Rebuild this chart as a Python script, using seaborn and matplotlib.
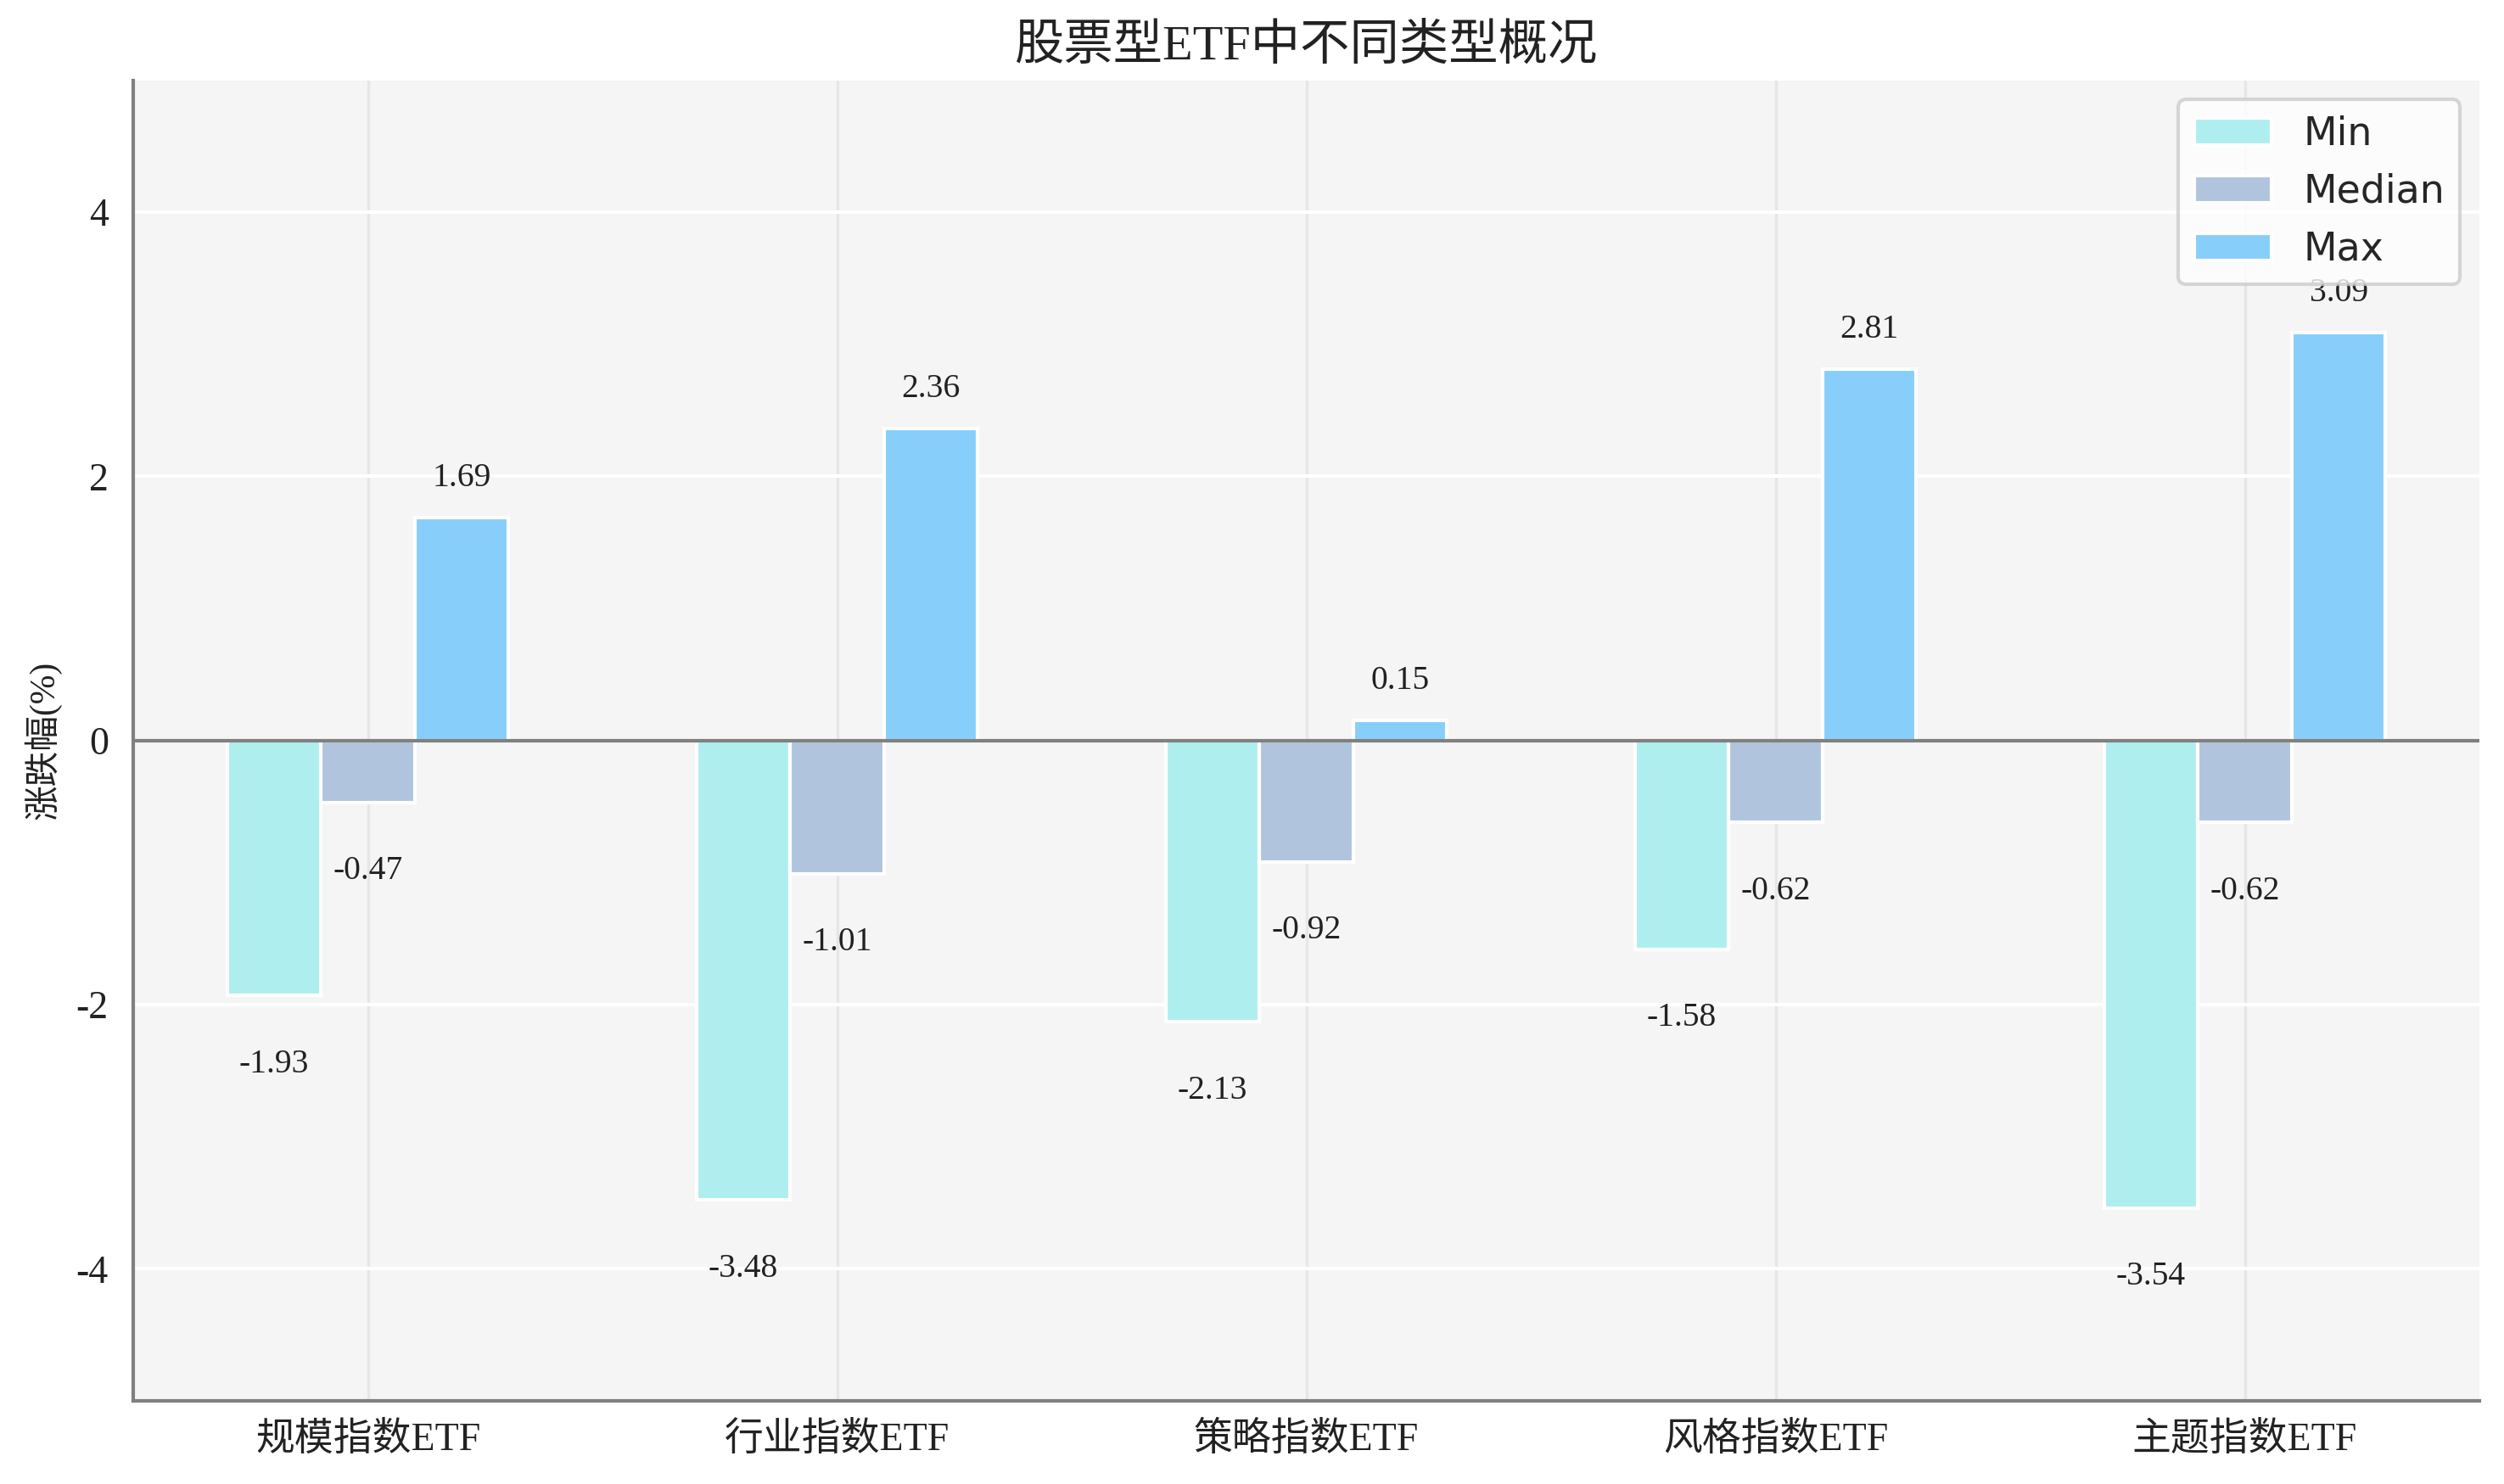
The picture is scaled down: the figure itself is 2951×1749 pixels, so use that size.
import pandas as pd
import seaborn as sns
import matplotlib.pyplot as plt

# Kategorien und Werte
categories = ['规模指数ETF', '行业指数ETF', '策略指数ETF', '风格指数ETF', '主题指数ETF']
min_values = [-1.93, -3.48, -2.13, -1.58, -3.54]
median_values = [-0.47, -1.01, -0.92, -0.62, -0.62]
max_values = [1.69, 2.36, 0.15, 2.81, 3.09]
stat_names = ['Min', 'Median', 'Max']
colors = ['#AFEEEE', '#B0C4DE', '#87CEFA']

# Long-Format fuer seaborn
rows = []
for name, vals in zip(stat_names, [min_values, median_values, max_values]):
    for c, v in zip(categories, vals):
        rows.append({'type': c, 'stat': name, 'value': v})
df = pd.DataFrame(rows)

sns.set_style('white')
cn_font = ['Liberation Serif', 'Noto Sans CJK SC']
plt.rcParams['font.family'] = cn_font
plt.rcParams['axes.unicode_minus'] = False

fig = plt.figure(figsize=(2951 / 300, 1749 / 300), dpi=300)
ax = fig.add_axes([157 / 2951, 1 - 1651 / 1749, (2922 - 157) / 2951, (1651 - 94.5) / 1749])
ax.set_facecolor('#f5f5f5')

sns.barplot(data=df, x='type', y='value', hue='stat', palette=colors, saturation=1,
            width=0.6, edgecolor='white', linewidth=1, ax=ax, zorder=3)

# Werte an die Balken schreiben
for cont in ax.containers:
    for bar in cont:
        h = bar.get_height()
        xc = bar.get_x() + bar.get_width() / 2
        y = h + 0.3 if h >= 0 else h - 0.52
        ax.text(xc, y, f'{h:.2f}', ha='center', va='center', fontsize=9.5,
                color='#222222', family=cn_font, zorder=5)

ax.axhline(0, color='#808080', linewidth=1, zorder=4)
ax.set_ylim(-5, 5)
ax.set_xlim(-0.5, 4.5)
ax.set_yticks([-4, -2, 0, 2, 4])

# Gitter
ax.yaxis.grid(True, color='white', linewidth=1)
ax.xaxis.grid(True, color='#e6e6e6', linewidth=0.8)
ax.set_axisbelow(True)

ax.set_title('股票型ETF中不同类型概况', fontsize=14, pad=6, color='#222222')
ax.set_xlabel('')
ax.set_ylabel('涨跌幅(%)', fontsize=10, color='#222222')
ax.tick_params(axis='y', length=0, pad=7, labelsize=11, labelcolor='#222222')
ax.tick_params(axis='x', length=0, pad=6, labelsize=11, labelcolor='#222222')

for s in ['top', 'right']:
    ax.spines[s].set_visible(False)
for s in ['left', 'bottom']:
    ax.spines[s].set_color('#808080')
    ax.spines[s].set_linewidth(1)

leg = ax.legend(loc='upper right', title=None,
                prop={'family': 'DejaVu Sans', 'size': 11})
leg.get_frame().set_edgecolor('#cccccc')
leg.set_zorder(10)

fig.savefig('out.png', dpi=300)
